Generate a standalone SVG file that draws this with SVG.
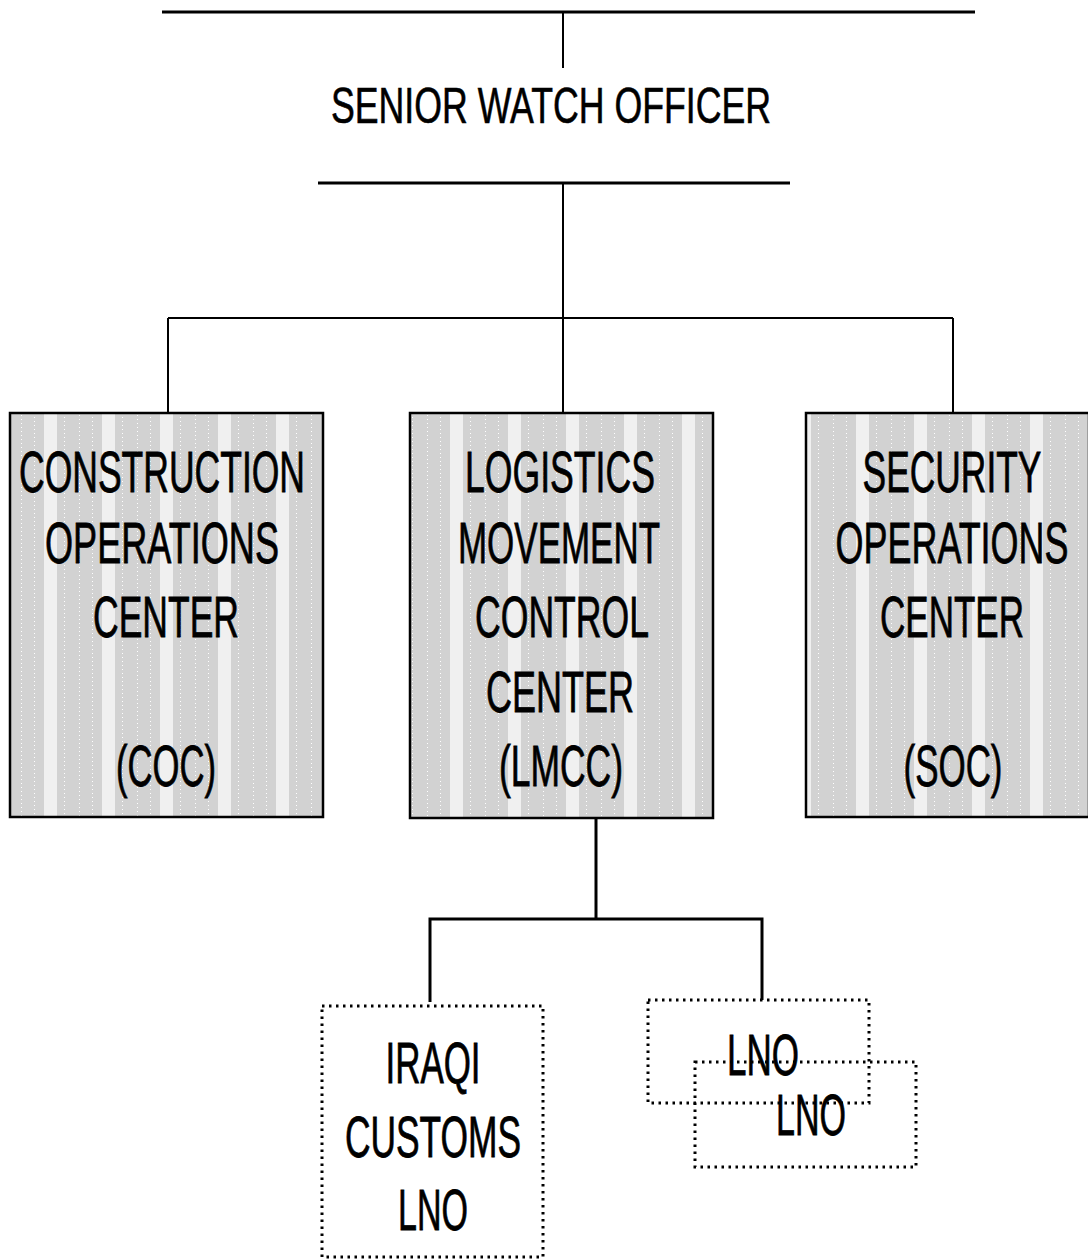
<svg xmlns="http://www.w3.org/2000/svg" width="1088" height="1259" viewBox="0 0 1088 1259">
  <defs>
    <pattern id="stipple" patternUnits="userSpaceOnUse" x="44" y="0" width="58" height="4">
      <rect x="0" y="0" width="58" height="4" fill="#d2d2d2"/>
      <rect x="0" y="0" width="13" height="4" fill="#f0f0f0"/>
      <rect x="20" y="1" width="1" height="1" fill="#ffffff"/>
      <rect x="35" y="3" width="1" height="1" fill="#ffffff"/>
      <rect x="48" y="1" width="1" height="1" fill="#ffffff"/>
    </pattern>
  </defs>
  <style>
    .t { font-family: "Liberation Sans", Arial, sans-serif; font-size: 58px; fill: #000; stroke: #000; stroke-width: 0.8; text-anchor: middle; }
    .title { font-size: 50px; stroke-width: 0.6; }
    .box { fill: url(#stipple); stroke: #000; stroke-width: 2.5; }
    .dbox { fill: none; stroke: #000; stroke-width: 3; stroke-dasharray: 2.5 4.5; }
    .ln { stroke: #000; stroke-width: 2; fill: none; }
    .thick { stroke-width: 3; }
  </style>
  <rect width="1088" height="1259" fill="#fff"/>

  <g id="connectors">
    <line class="ln thick" x1="162" y1="12" x2="975" y2="12"/>
    <line class="ln" x1="563" y1="12" x2="563" y2="68"/>
    <line class="ln thick" x1="318" y1="183" x2="790" y2="183"/>
    <line class="ln" x1="563" y1="183" x2="563" y2="412"/>
    <line class="ln" x1="168" y1="318" x2="953" y2="318"/>
    <line class="ln" x1="168" y1="318" x2="168" y2="412"/>
    <line class="ln" x1="953" y1="318" x2="953" y2="412"/>
    <line class="ln thick" x1="596" y1="818" x2="596" y2="919"/>
    <polyline class="ln thick" points="430,1002 430,919 762,919 762,1000"/>
  </g>

  <g id="senior-watch-officer">
    <text class="t title" x="551" y="123" textLength="440" lengthAdjust="spacingAndGlyphs">SENIOR WATCH OFFICER</text>
  </g>

  <g id="coc">
    <rect class="box" x="10" y="413" width="313" height="404"/>
    <text class="t" x="162" y="492" textLength="286" lengthAdjust="spacingAndGlyphs">CONSTRUCTION</text>
    <text class="t" x="162" y="563" textLength="234" lengthAdjust="spacingAndGlyphs">OPERATIONS</text>
    <text class="t" x="166" y="637" textLength="146" lengthAdjust="spacingAndGlyphs">CENTER</text>
    <text class="t" x="166" y="786" textLength="100" lengthAdjust="spacingAndGlyphs">(COC)</text>
  </g>

  <g id="lmcc">
    <rect class="box" x="410" y="413" width="303" height="405"/>
    <text class="t" x="560" y="492" textLength="190" lengthAdjust="spacingAndGlyphs">LOGISTICS</text>
    <text class="t" x="559" y="563" textLength="202" lengthAdjust="spacingAndGlyphs">MOVEMENT</text>
    <text class="t" x="562" y="637" textLength="174" lengthAdjust="spacingAndGlyphs">CONTROL</text>
    <text class="t" x="560" y="712" textLength="148" lengthAdjust="spacingAndGlyphs">CENTER</text>
    <text class="t" x="561" y="786" textLength="124" lengthAdjust="spacingAndGlyphs">(LMCC)</text>
  </g>

  <g id="soc">
    <rect class="box" x="806" y="413" width="283" height="404"/>
    <text class="t" transform="translate(952 492) scale(0.6 1)" x="0" y="0" textLength="298" lengthAdjust="spacingAndGlyphs">SECURITY</text>
    <text class="t" transform="translate(952 563) scale(0.6 1)" x="0" y="0" textLength="388" lengthAdjust="spacingAndGlyphs">OPERATIONS</text>
    <text class="t" transform="translate(952 637) scale(0.6 1)" x="0" y="0" textLength="240" lengthAdjust="spacingAndGlyphs">CENTER</text>
    <text class="t" transform="translate(953 786) scale(0.6 1)" x="0" y="0" textLength="165" lengthAdjust="spacingAndGlyphs">(SOC)</text>
  </g>

  <g id="iraqi-customs-lno">
    <rect class="dbox" x="322" y="1006" width="221" height="251"/>
    <text class="t" x="433" y="1083" textLength="95" lengthAdjust="spacingAndGlyphs">IRAQI</text>
    <text class="t" x="433" y="1157" textLength="176" lengthAdjust="spacingAndGlyphs">CUSTOMS</text>
    <text class="t" x="433" y="1230" textLength="70" lengthAdjust="spacingAndGlyphs">LNO</text>
  </g>

  <g id="lno-1">
    <rect class="dbox" x="648" y="1000" width="221" height="103"/>
    <text class="t" x="763" y="1075" textLength="72" lengthAdjust="spacingAndGlyphs">LNO</text>
  </g>

  <g id="lno-2">
    <rect class="dbox" x="695" y="1062" width="221" height="105"/>
    <text class="t" x="811" y="1135" textLength="70" lengthAdjust="spacingAndGlyphs">LNO</text>
  </g>
</svg>
